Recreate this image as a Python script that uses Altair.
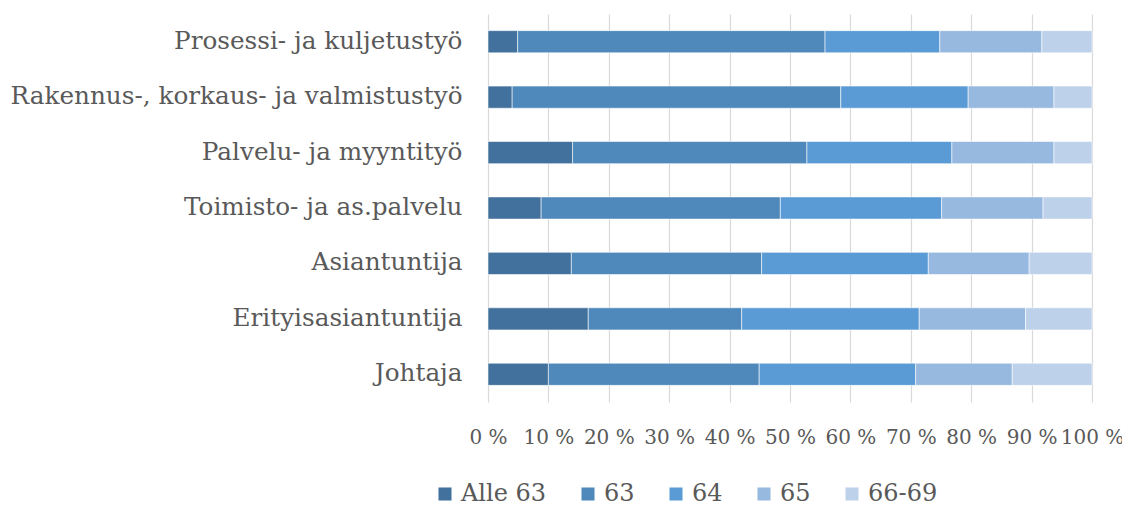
import altair as alt
import pandas as pd

categories = [
    "Prosessi- ja kuljetustyö",
    "Rakennus-, korkaus- ja valmistustyö",
    "Palvelu- ja myyntityö",
    "Toimisto- ja as.palvelu",
    "Asiantuntija",
    "Erityisasiantuntija",
    "Johtaja",
]
series = ["Alle 63", "63", "64", "65", "66-69"]
alle63 = [4.9, 4.0, 14.0, 8.8, 13.8, 16.6, 10.0]
v63 = [50.9, 54.4, 38.8, 39.6, 31.5, 25.4, 34.9]
v64 = [19.0, 21.1, 24.0, 26.7, 27.6, 29.4, 25.9]
v65 = [16.9, 14.2, 16.9, 16.8, 16.7, 17.6, 16.0]
v6669 = [8.3, 6.3, 6.3, 8.1, 10.4, 11.0, 13.2]
colors = ["#41719C", "#4F89BC", "#5B9BD5", "#97B9E0", "#BDD1EB"]

rows = []
for vals, s_idx in zip([alle63, v63, v64, v65, v6669], range(5)):
    for c, v in zip(categories, vals):
        rows.append({"cat": c, "series": series[s_idx], "order": s_idx, "value": v})
df = pd.DataFrame(rows)

FONT = "DejaVu Serif"
GREY = "#595959"

chart = alt.Chart(df).mark_bar(
    stroke="white", strokeWidth=0.8, strokeOpacity=0.7
).encode(
    y=alt.Y("cat:N", sort=categories, title=None,
            scale=alt.Scale(paddingInner=0.6, paddingOuter=0.3),
            axis=alt.Axis(labelFont=FONT, labelFontSize=24.7, labelColor=GREY,
                          labelPadding=26, ticks=False, domain=False, labelLimit=600)),
    x=alt.X("value:Q", stack="normalize", title=None,
            scale=alt.Scale(domain=[0, 1]),
            axis=alt.Axis(values=[i / 10 for i in range(11)],
                          labelExpr="round(datum.value*100) + ' %'",
                          labelFont=FONT, labelFontSize=20, labelColor=GREY,
                          labelPadding=25, ticks=False, domain=False,
                          grid=True, gridColor="#D9D9D9", gridWidth=1.2,
                          labelFlush=False, labelOverlap=False)),
    color=alt.Color("series:N", sort=series,
                    scale=alt.Scale(domain=series, range=colors),
                    legend=alt.Legend(title=None, orient="none", direction="horizontal",
                                      legendX=-55, legendY=468,
                                      symbolType="square", symbolSize=170,
                                      symbolStrokeWidth=0,
                                      labelFont=FONT, labelFontSize=24, labelColor=GREY,
                                      labelOffset=4, columnPadding=29)),
    order=alt.Order("order:Q"),
).properties(
    width=604, height=388,
    autosize=alt.AutoSizeParams(type="none"),
    padding={"left": 480, "top": 6, "right": 30, "bottom": 106},
).configure_view(stroke=None)

chart.save("out.html", embed_options={"renderer": "svg", "actions": False})
